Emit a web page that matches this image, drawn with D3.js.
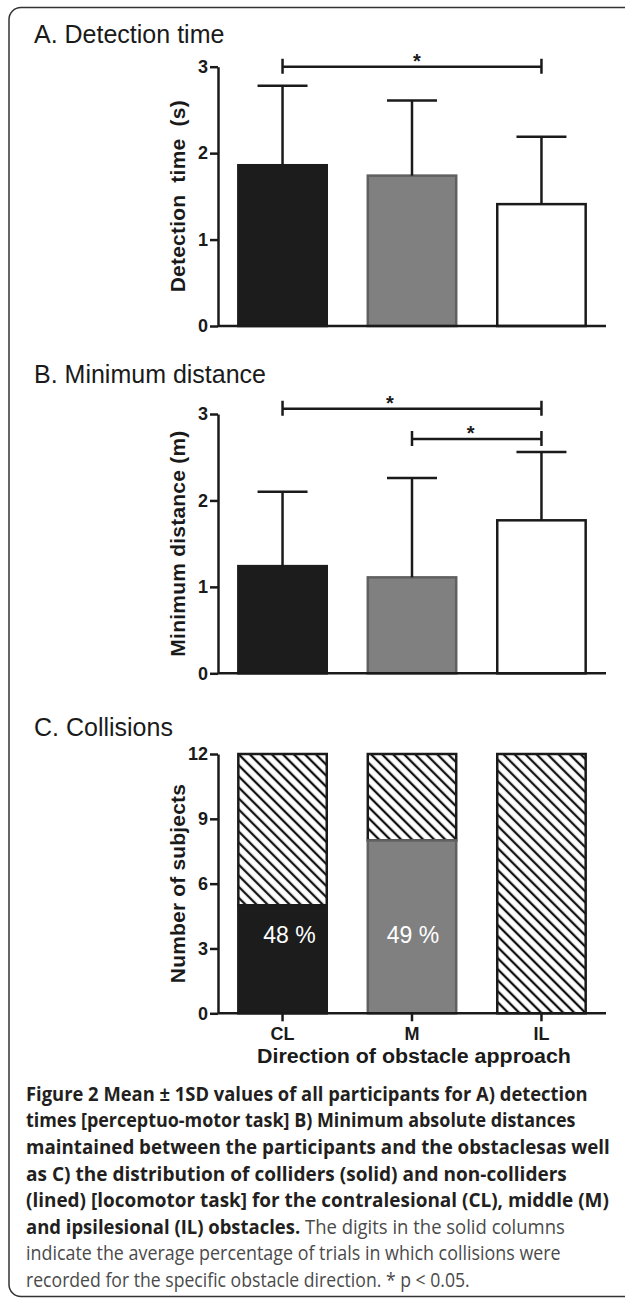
<!DOCTYPE html>
<html>
<head>
<meta charset="utf-8">
<script src="https://cdn.jsdelivr.net/npm/d3@7/dist/d3.min.js"></script>
<style>
  body { margin: 0; background: #fff; }
  svg text { font-family: "Liberation Sans", Arial, sans-serif; }
  .axis path, .axis line { stroke: #1a1a1a; stroke-width: 2.5; }
  .axis text { font-size: 18px; font-weight: bold; fill: #1a1a1a; }
  .caption text { font-family: "Open Sans", sans-serif; font-size: 19.5px; }
</style>
</head>
<body>
<div id="chart"></div>
<script>
// values
const categories = ["CL", "M", "IL"];
const detectionMean = [1.86, 1.74, 1.41];
const detectionSD = [0.92, 0.87, 0.78];
const distanceMean = [1.24, 1.11, 1.77];
const distanceSD = [0.86, 1.15, 0.79];
const colliders = [5, 8, 0];
const nonColliders = [7, 4, 12];
const collisionPct = ["48 %", "49 %", ""];
const ticksAB = [0, 1, 2, 3];
const ticksC = [0, 3, 6, 9, 12];
const detectionSig = [{ from: "CL", to: "IL", y: 3.0 }];
const distanceSig = [{ from: "CL", to: "IL", y: 3.06 }, { from: "M", to: "IL", y: 2.71 }];

const width = 625;
const height = 1299;
const fills = ["#1c1c1c", "#808080", "#ffffff"];
const strokes = ["#1c1c1c", "#606060", "#1a1a1a"];

const svg = d3.select("#chart")
    .append("svg")
    .attr("width", width)
    .attr("height", height);

// diagonal hatch for the non-colliders
svg.append("defs")
    .append("pattern")
    .attr("id", "hatch")
    .attr("patternUnits", "userSpaceOnUse")
    .attr("width", 7.8)
    .attr("height", 10)
    .attr("patternTransform", "rotate(-45)")
    .call(p => {
        p.append("rect").attr("width", 7.8).attr("height", 10).attr("fill", "#fff");
        p.append("line").attr("x1", 2).attr("x2", 2).attr("y1", 0).attr("y2", 10)
            .attr("stroke", "#111").attr("stroke-width", 2.3);
    });

// frame round the whole figure
svg.append("rect")
    .attr("x", 9).attr("y", 7.5)
    .attr("width", 700).attr("height", 1289)
    .attr("rx", 12)
    .attr("fill", "none")
    .attr("stroke", "#333")
    .attr("stroke-width", 1.5);

const xScale = d3.scaleBand()
    .domain(categories)
    .range([218, 606])
    .paddingInner(0.317)
    .paddingOuter(0.157);

const cx = c => xScale(c) + xScale.bandwidth() / 2;

// squeeze a text horizontally so it spans exactly `len` pixels
function fitWidth(t, x, y, len, anchor) {
    const natural = t.node().getComputedTextLength();
    const sx = len / natural;
    t.attr("x", 0).attr("y", 0)
        .attr("text-anchor", anchor || "start")
        .attr("transform", `translate(${x},${y}) scale(${sx},1)`);
}

function drawAxes(g, y, ticks, label, labelLen, showX) {
    g.append("g")
        .attr("class", "axis")
        .attr("transform", "translate(218,0)")
        .call(d3.axisLeft(y).tickValues(ticks).tickFormat(d3.format("d"))
            .tickSize(8).tickSizeOuter(0).tickPadding(2));

    g.append("g")
        .attr("class", "axis")
        .attr("transform", `translate(0,${y(0)})`)
        .call(d3.axisBottom(xScale).tickSize(showX ? 8 : 0).tickSizeOuter(0).tickPadding(6)
            .tickFormat(showX ? d => d : ""))
        .call(a => a.select(".domain").attr("d", `M218,0H606`));

    const r = y.range();
    g.append("text")
        .attr("transform", `translate(185,${(r[0] + r[1]) / 2}) rotate(-90)`)
        .attr("text-anchor", "middle")
        .style("font-size", "21px")
        .style("font-weight", "bold")
        .attr("fill", "#1a1a1a")
        .attr("textLength", labelLen)
        .attr("lengthAdjust", "spacing")
        .attr("xml:space", "preserve")
        .text(label);
}

function drawTitle(text, y) {
    svg.append("text")
        .attr("x", 34).attr("y", y)
        .style("font-size", "25px")
        .attr("fill", "#1a1a1a")
        .text(text);
}

function drawMeanBars(g, y, means, sds) {
    g.append("g")
        .selectAll("rect")
        .data(means)
        .join("rect")
        .attr("x", (d, i) => xScale(categories[i]))
        .attr("y", d => y(d))
        .attr("width", xScale.bandwidth())
        .attr("height", d => y(0) - y(d))
        .attr("fill", (d, i) => fills[i])
        .attr("stroke", (d, i) => strokes[i])
        .attr("stroke-width", 2.5);

    const err = g.append("g")
        .selectAll("g")
        .data(means)
        .join("g")
        .attr("stroke", "#1a1a1a")
        .attr("stroke-width", 2.5);
    err.append("line")
        .attr("x1", (d, i) => cx(categories[i]))
        .attr("x2", (d, i) => cx(categories[i]))
        .attr("y1", d => y(d))
        .attr("y2", (d, i) => y(d + sds[i]));
    err.append("line")
        .attr("x1", (d, i) => cx(categories[i]) - 25)
        .attr("x2", (d, i) => cx(categories[i]) + 25)
        .attr("y1", (d, i) => y(d + sds[i]))
        .attr("y2", (d, i) => y(d + sds[i]));
}

function drawSig(g, y, sig, starShift) {
    const s = g.append("g")
        .selectAll("g")
        .data(sig)
        .join("g");
    s.append("path")
        .attr("fill", "none")
        .attr("stroke", "#1a1a1a")
        .attr("stroke-width", 2.5)
        .attr("d", d => {
            const x1 = cx(d.from), x2 = cx(d.to), yy = y(d.y);
            return `M${x1},${yy - 8}V${yy + 7}M${x1},${yy}H${x2}M${x2},${yy - 8}V${yy + 7}`;
        });
    s.append("text")
        .attr("x", (d, i) => (cx(d.from) + cx(d.to)) / 2 + starShift[i])
        .attr("y", d => y(d.y) + 1)
        .attr("text-anchor", "middle")
        .style("font-size", "20px")
        .style("font-weight", "bold")
        .attr("fill", "#1a1a1a")
        .text("*");
}

// A. Detection time
const yA = d3.scaleLinear().domain([0, 3]).range([326, 66.7]);
const gA = svg.append("g");
drawTitle("A. Detection time", 43);
drawMeanBars(gA, yA, detectionMean, detectionSD);
drawAxes(gA, yA, ticksAB, "Detection  time  (s)", 192, false);
drawSig(gA, yA, detectionSig, [5]);

// B. Minimum distance
const yB = d3.scaleLinear().domain([0, 3]).range([673.3, 414]);
const gB = svg.append("g");
drawTitle("B. Minimum distance", 383);
drawMeanBars(gB, yB, distanceMean, distanceSD);
drawAxes(gB, yB, ticksAB, "Minimum distance (m)", 226, false);
drawSig(gB, yB, distanceSig, [-22, -6]);

// C. Collisions
const yC = d3.scaleLinear().domain([0, 12]).range([1013.3, 754]);
const gC = svg.append("g");
drawTitle("C. Collisions", 736);

gC.append("g")
    .selectAll("rect")
    .data(nonColliders)
    .join("rect")
    .attr("x", (d, i) => xScale(categories[i]))
    .attr("y", (d, i) => yC(colliders[i] + d))
    .attr("width", xScale.bandwidth())
    .attr("height", (d, i) => yC(colliders[i]) - yC(colliders[i] + d))
    .attr("fill", "url(#hatch)")
    .attr("stroke", "#1a1a1a")
    .attr("stroke-width", 2.5);

gC.append("g")
    .selectAll("rect")
    .data(colliders)
    .join("rect")
    .attr("x", (d, i) => xScale(categories[i]))
    .attr("y", d => yC(d))
    .attr("width", xScale.bandwidth())
    .attr("height", d => yC(0) - yC(d))
    .attr("fill", (d, i) => fills[i])
    .attr("stroke", (d, i) => strokes[i])
    .attr("stroke-width", 2.5);

gC.append("g")
    .selectAll("text")
    .data(collisionPct)
    .join("text")
    .attr("x", (d, i) => cx(categories[i]) + (i == 0 ? 7 : 1))
    .attr("y", yC(3) - 5)
    .attr("text-anchor", "middle")
    .style("font-size", "23px")
    .attr("fill", "#fff")
    .text(d => d);

drawAxes(gC, yC, ticksC, "Number of subjects", 199, true);

const xTitle = svg.append("text")
    .style("font-size", "21px")
    .style("font-weight", "bold")
    .attr("fill", "#1a1a1a")
    .text("Direction of obstacle approach");
fitWidth(xTitle, 414, 1063, 314, "middle");

// caption, one line at a time: [bold part, normal part, right edge]
const captionLines = [
    ["Figure 2 Mean \u00b1 1SD values of all participants for A) detection", "", 588],
    ["times [perceptuo-motor task] B) Minimum absolute distances", "", 576],
    ["maintained between the participants and the obstaclesas well", "", 610],
    ["as C) the distribution of colliders (solid) and non-colliders", "", 567],
    ["(lined) [locomotor task] for the contralesional (CL), middle (M)", "", 609],
    ["and ipsilesional (IL) obstacles.", " The digits in the solid columns", 565],
    ["", "indicate the average percentage of trials in which collisions were", 561],
    ["", "recorded for the specific obstacle direction. * p < 0.05.", 470]
];

const cap = svg.append("g").attr("class", "caption");
captionLines.forEach((ln, i) => {
    const t = cap.append("text")
        .attr("xml:space", "preserve");
    if (ln[0]) t.append("tspan").style("font-weight", "bold").attr("fill", "#231f20").text(ln[0]);
    if (ln[1]) t.append("tspan").style("font-weight", "normal").attr("fill", "#4a4a4a").text(ln[1]);
    fitWidth(t, 26, 1100.7 + i * 26.6, ln[2] - 26);
});
</script>
</body>
</html>
